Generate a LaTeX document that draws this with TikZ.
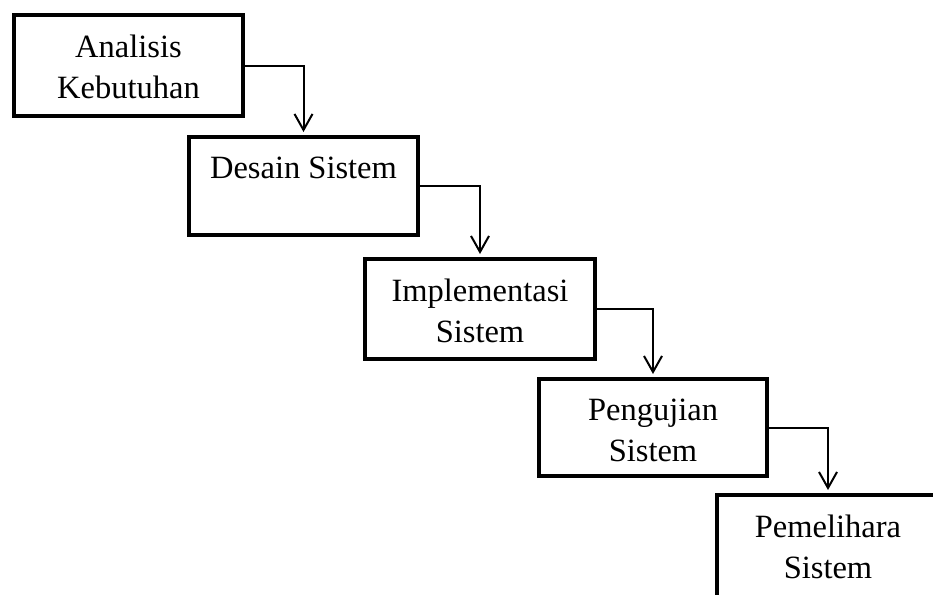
\documentclass[tikz,border=0pt]{standalone}
\usepackage{fontspec}
\setmainfont{Liberation Serif}
\usetikzlibrary{arrows.meta}
\begin{document}
\begin{tikzpicture}[x=1pt,y=-1pt,
  stage/.style={draw, line width=4pt, minimum width=229pt, minimum height=100pt, inner sep=0pt},
  boxtext/.style={align=center, anchor=north, inner sep=0pt, yshift=-21.5pt, font=\fontsize{32.5}{41}\selectfont},
  flow/.style={line width=2pt, -{Straight Barb[length=16pt,width=18pt]}, shorten >=3pt}]
\clip (0,0) rectangle (933,594);
\useasboundingbox (0,0) rectangle (933,594);
\node[stage, minimum height=101pt] (b1) at (128.5,65.5) {};
\node[stage, minimum height=98pt] (b2) at (303.5,186) {};
\node[stage, minimum width=230pt] (b3) at (480,309) {};
\node[stage, minimum width=228pt, minimum height=97pt] (b4) at (653,427.5) {};
\node[stage, minimum width=280pt, minimum height=130pt] (b5) at (857,560) {};
\coordinate (c5) at ([xshift=113pt]b5.north west);
\node[boxtext] (t1) at (b1.north) {Analisis\\Kebutuhan};
\node[boxtext] (t2) at (b2.north) {Desain Sistem};
\node[boxtext] (t3) at (b3.north) {Implementasi\\Sistem};
\node[boxtext] (t4) at (b4.north) {Pengujian\\Sistem};
\node[boxtext] (t5) at (c5) {Pemelihara\\Sistem};
\draw[flow] (b1.east) -| (b2.north);
\draw[flow] (b2.east) -| (b3.north);
\draw[flow] (b3.east) -| (b4.north);
\draw[flow] (b4.east) -| (c5);
\end{tikzpicture}
\end{document}
